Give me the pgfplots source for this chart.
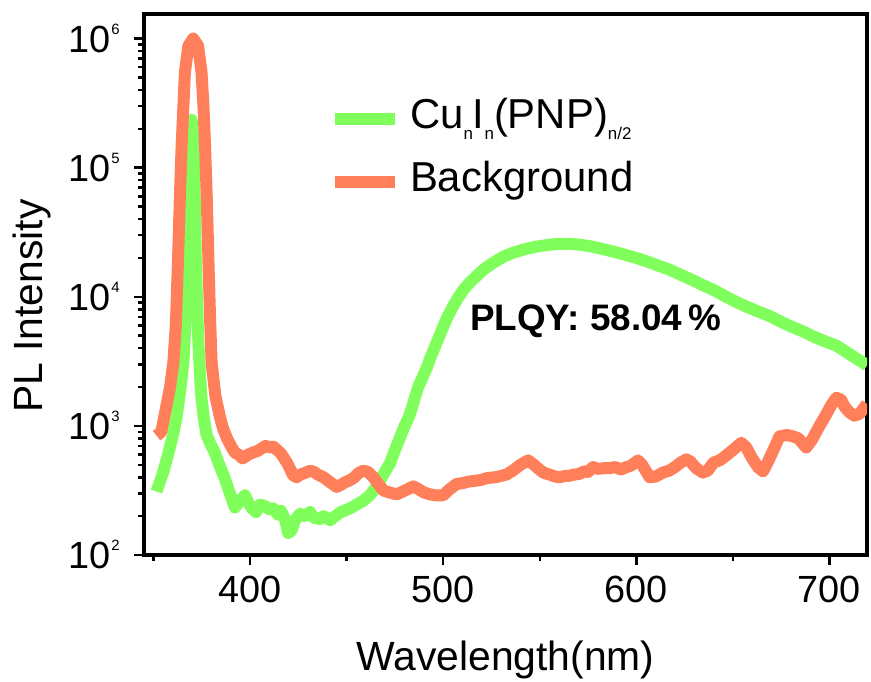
\documentclass[border=0pt]{standalone}
\usepackage{fontspec}
\setmainfont{Liberation Sans}
\usepackage{pgfplots}
\usepackage{pgfplotstable}
\pgfplotsset{compat=1.18}

\definecolor{plgreen}{RGB}{128,255,92}
\definecolor{plorange}{RGB}{255,127,90}

% power-of-ten tick label with a small raised exponent
\newcommand{\dec}[1]{10\hspace{0.6bp}\raisebox{18bp}{\fontsize{15}{15}\selectfont #1}}
% lowered subscript used in the formula
\newcommand{\sub}[1]{\raisebox{-11bp}{\fontsize{17}{17}\selectfont #1}}

% Cu_nI_n(PNP)_{n/2} emission spectrum
\pgfplotstableread{
wl I
351.5 310
352.4 340
355 440
357.6 610
360 850
361.9 1170
363.8 1900
365.4 3100
366.3 5500
367.1 11000
367.8 30000
368.5 80000
369.1 160000
369.7 235000
370.3 180000
370.9 110000
371.4 50000
371.8 21000
372.5 9000
373.2 4300
374 2500
374.8 1620
376 1150
377.4 850
379.5 720
381.7 620
384 500
386.9 390
389.5 300
392.1 233
394.5 260
397.3 290
399 255
400.7 233
403 215
405 245
407.6 240
410 225
412 230
414.5 205
416 220
418 190
419.7 148
421.5 155
423.1 185
425.9 209
428 200
431 215
432.8 195
436 190
438 200
441.4 186
444 200
447 215
450 224
453 235
456 250
458.6 263
462 290
465.5 340
469 420
472.4 513
475 650
477.6 813
480 1000
482.5 1200
484.5 1500
487 2000
491.4 2800
493.1 3300
496 4200
499 5400
502 6900
505.2 8500
508 10000
511 11600
514 13000
517.3 14500
521 16300
525 18000
531 20400
536 21900
542 23300
548.3 24500
555 25300
560 25700
565.5 25700
571 25300
577 24500
582.8 23400
588 22400
594 21200
600 20000
606 18700
612 17300
617.3 16200
623 14800
629 13500
634.5 12300
640 11300
646 10100
651.8 9100
657 8400
663 7700
669 7100
675 6400
680 5900
686.3 5400
692 4900
698 4500
703.5 4200
708 3800
713 3400
717.3 3100
719.5 2950
}\sample

% background spectrum
\pgfplotstableread{
wl I
351.5 840
354 900
356.7 1450
358.5 2000
360.2 3100
361.5 6000
362.7 21000
363.6 60000
364.5 150000
366.2 550000
368 880000
370.5 1000000
373 880000
374.8 550000
375.8 300000
376.6 150000
377.5 60000
378.3 21000
379.2 7000
380 3100
382 1700
384.3 1180
386 950
388 800
390 700
392.1 620
394 600
396 560
397.3 575
399 600
402.4 630
404 640
406 670
408 700
410.2 680
412 690
414 650
416 610
417.1 575
419 520
420.5 470
422.2 415
424 400
426 420
428 430
431.1 450
433 440
435 420
438 400
441 370
444.8 337
447 350
449 365
451.7 380
454 400
456 430
458.6 450
461 440
463.8 400
466 360
469 316
472 305
475.9 295
478 305
481 320
484.5 340
487 325
490 305
493.1 295
496 290
500 290
503 320
506.9 355
510 360
513 370
516 375
519 380
523 395
527 400
530 410
532.8 420
536 450
540 500
544 540
547 500
549 470
551.8 435
555 420
558 405
560.4 400
563 410
565 410
568 420
570.7 425
573 445
575 440
577.6 480
580 465
583 470
586.2 470
589 480
592 460
594.9 480
597 490
600.9 540
603 500
606.9 400
610 405
613.8 435
617 450
620 480
623 520
625.9 550
628 530
631 470
634.5 435
637 450
640 520
643.1 540
646 580
650 650
654.4 740
657 680
660 560
663 480
665.6 445
668 520
671 650
674.2 830
678 850
681.1 830
684 800
688 680
691 780
694.9 1000
698 1200
701 1450
703.6 1650
706 1600
708 1400
710.5 1270
713 1200
715.6 1240
717.5 1350
719.5 1480
}\background

\begin{document}
\begin{tikzpicture}
\useasboundingbox (-144bp,-127bp) rectangle (727bp,555bp);
\begin{axis}[
  at={(0,0)}, anchor=south west,
  scale only axis, width=723bp, height=541bp,
  ymode=log,
  xmin=345, xmax=719.5, ymin=100, ymax=1.55e6,
  axis line style={line width=4bp, black},
  xtick={400,500,600,700},
  minor xtick={350,450,550,650},
  ytick={100,1000,10000,100000,1000000},
  yticklabels={\dec{2},\dec{3},\dec{4},\dec{5},\dec{6}},
  xtick pos=bottom, ytick pos=left, tick align=outside,
  major tick length=10bp, minor tick length=6bp,
  every tick/.style={black, line width=2.5bp},
  /pgf/number format/assume math mode=true,
  ticklabel style={font=\fontsize{38}{38}\selectfont, inner sep=0pt},
  xticklabel style={anchor=base, yshift=-38bp},
  yticklabel style={anchor=base east, xshift=-14bp, yshift=-13.6bp},
  xlabel={Wavelength(nm)},
  ylabel={PL Intensity},
  label style={font=\fontsize{41}{41}\selectfont, inner sep=0pt},
  xlabel style={at={(rel axis cs:0.5,0)}, anchor=base, yshift=-115bp},
  ylabel style={at={(rel axis cs:-0.1397,0.46)}, anchor=base},
  legend style={at={(rel axis cs:0.256,0.8447)}, anchor=north west,
    draw=none, fill=none, inner sep=0pt, outer sep=0pt,
    font=\fontsize{42}{42}\selectfont,
    nodes={inner sep=0pt, text height=30bp, text depth=11bp},
    column sep=9bp, row sep=22bp},
  legend cell align=left,
  legend image code/.code={\draw[#1, line width=12bp] (0bp,0bp) -- (60bp,0bp);},
  clip=true,
]
\addplot[plgreen, line width=12bp, line join=round] table[x=wl, y=I] {\sample};
\addlegendentry{Cu\sub{n}I\sub{n}(PNP)\sub{n/2}}
\addplot[plorange, line width=12bp, line join=round] table[x=wl, y=I] {\background};
\addlegendentry{Background}
\node[font=\bfseries\fontsize{37}{37}\selectfont, inner sep=0pt, anchor=center]
  at (axis cs:579,6450) {PLQY: 58.04\,\%};
\end{axis}
\end{tikzpicture}
\end{document}
